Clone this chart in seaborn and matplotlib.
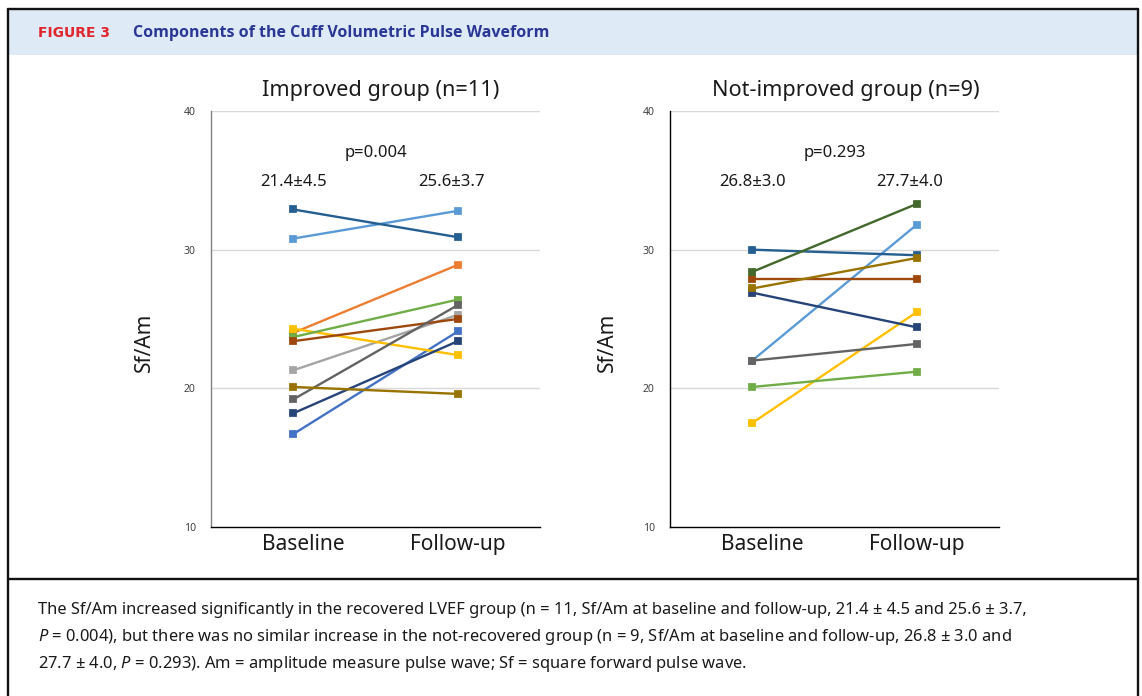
import pandas as pd
import matplotlib
matplotlib.use("Agg")
import matplotlib.pyplot as plt
from matplotlib.patches import Rectangle
from matplotlib.lines import Line2D
from matplotlib.transforms import ScaledTranslation
import seaborn as sns

# Данные
timepoints = ["Baseline", "Follow-up"]

improved_ids = ["i1", "i2", "i3", "i4", "i5", "i6", "i7", "i8", "i9", "i10", "i11"]
improved_baseline = [16.7, 24.0, 21.3, 24.3, 30.8, 23.7, 18.2, 23.4, 19.2, 20.1, 32.9]
improved_followup = [24.1, 28.9, 25.3, 22.4, 32.8, 26.4, 23.4, 25.0, 26.0, 19.6, 30.9]
improved_colors = ["#4472C4", "#ED7D31", "#A5A5A5", "#FFC000", "#5B9BD5", "#70AD47",
                   "#264478", "#9E480E", "#636363", "#997300", "#255E91"]

notimp_ids = ["n1", "n2", "n3", "n4", "n5", "n6", "n7", "n8", "n9"]
notimp_baseline = [22.0, 17.5, 22.0, 20.1, 26.9, 27.9, 30.0, 27.2, 28.4]
notimp_followup = [31.8, 25.5, 23.2, 21.2, 24.4, 27.9, 29.6, 29.4, 33.3]
notimp_colors = ["#5B9BD5", "#FFC000", "#636363", "#70AD47", "#264478", "#9E480E",
                 "#255E91", "#997300", "#43682B"]

improved_means = ["21.4\u00b14.5", "25.6\u00b13.7"]
notimp_means = ["26.8\u00b13.0", "27.7\u00b14.0"]
improved_p = "p=0.004"
notimp_p = "p=0.293"

W, H = 1142, 696
CHART_FONT = ["Noto Sans", "DejaVu Sans"]
TXT = "#1a1a1a"


def to_long(ids, base, follow):
    rows = []
    for sid, b, f in zip(ids, base, follow):
        rows.append({"id": sid, "time": timepoints[0], "value": b})
        rows.append({"id": sid, "time": timepoints[1], "value": f})
    return pd.DataFrame(rows)


def px_rect(x0, y0, x1, y1):
    # пиксели (сверху вниз) -> доли фигуры
    return [x0 / W, 1 - y1 / H, (x1 - x0) / W, (y1 - y0) / H]


def draw_panel(fig, ax, df, ids, colors, title, means, pval, spine_color, title_x, ylab_x):
    palette = dict(zip(ids, colors))
    sns.pointplot(data=df, x="time", y="value", hue="id", hue_order=ids,
                  order=timepoints, palette=palette, markers="s", linestyles="-",
                  errorbar=None, dodge=False, legend=False, ax=ax,
                  markersize=5, linewidth=1.7)
    ax.set_xlim(-0.5, 1.5)
    ax.set_ylim(10, 40)
    ax.set_yticks([10, 20, 30, 40])
    for y in [20, 30, 40]:
        ax.axhline(y, color="#D9D9D9", lw=1.0, zorder=0)
    ax.tick_params(axis="y", length=0, pad=11, labelsize=7.5, labelcolor="#404040")
    ax.tick_params(axis="x", length=0, pad=5, labelsize=15, labelcolor=TXT)
    for lbl in ax.get_xticklabels() + ax.get_yticklabels():
        lbl.set_family(CHART_FONT)
    # подпись Baseline в оригинале сдвинута немного вправо
    base_lbl = ax.get_xticklabels()[0]
    base_lbl.set_transform(base_lbl.get_transform()
                           + ScaledTranslation(10 / 100, 0, fig.dpi_scale_trans))
    ax.set_xlabel("")
    ax.set_ylabel("Sf/Am", fontsize=15, family=CHART_FONT, color=TXT)
    ax.yaxis.set_label_coords(ylab_x, 0.443)
    ax.grid(False)
    for side in ["top", "right"]:
        ax.spines[side].set_visible(False)
    ax.spines["left"].set_color(spine_color)
    ax.spines["left"].set_linewidth(1.0)
    ax.spines["bottom"].set_color("#000000")
    ax.spines["bottom"].set_linewidth(1.0)

    ax.text(title_x, 1.05, title, transform=ax.transAxes, ha="center", va="center",
            fontsize=15.6, family=CHART_FONT, color=TXT)
    ax.text(0.5, 37.0, pval, ha="center", va="center", fontsize=12,
            family=CHART_FONT, color=TXT)
    ax.text(0, 34.9, means[0], ha="center", va="center", fontsize=12,
            family=CHART_FONT, color=TXT)
    ax.text(0.96, 34.9, means[1], ha="center", va="center", fontsize=12,
            family=CHART_FONT, color=TXT)


def main():
    sns.set_theme(style="white")
    plt.rcParams["font.family"] = CHART_FONT
    plt.rcParams["mathtext.fontset"] = "custom"
    plt.rcParams["mathtext.it"] = "Noto Sans:italic"
    plt.rcParams["mathtext.rm"] = "Noto Sans"

    fig = plt.figure(figsize=(W / 100, H / 100), dpi=100)
    fig.patch.set_facecolor("white")

    # шапка и рамка
    fig.patches.append(Rectangle((8 / W, 1 - 55 / H), (1138 - 8) / W, (55 - 9) / H,
                                 transform=fig.transFigure, facecolor="#DEEAF6",
                                 edgecolor="none", zorder=0))
    for (x0, y0, x1, y1) in [(8, 8.5, 1138, 8.5), (8, 579, 1138, 579)]:
        fig.lines.append(Line2D([x0 / W, x1 / W], [1 - y0 / H, 1 - y1 / H],
                                transform=fig.transFigure, color="#111111", lw=1.7))
    for x in [8, 1138]:
        fig.lines.append(Line2D([x / W, x / W], [1 - 8.5 / H, 0],
                                transform=fig.transFigure, color="#111111", lw=1.7))

    fig.text(38 / W, 1 - 33 / H, "FIGURE 3", ha="left",
             va="center", fontsize=10, fontweight="bold", color="#E1262D",
             family="DejaVu Sans")
    fig.text(133 / W, 1 - 33 / H, "Components of the Cuff Volumetric Pulse Waveform",
             ha="left", va="center", fontsize=11.5, fontweight="bold", color="#2A3795",
             family=["Open Sans", "DejaVu Sans"])

    ax1 = fig.add_axes(px_rect(211, 111, 540, 527))
    ax2 = fig.add_axes(px_rect(670, 111, 999, 527))

    draw_panel(fig, ax1, to_long(improved_ids, improved_baseline, improved_followup),
               improved_ids, improved_colors, "Improved group (n=11)",
               improved_means, improved_p, "#808080", 0.517, -0.170)
    draw_panel(fig, ax2, to_long(notimp_ids, notimp_baseline, notimp_followup),
               notimp_ids, notimp_colors, "Not-improved group (n=9)",
               notimp_means, notimp_p, "#000000", 0.535, -0.158)

    caption = [
        "The Sf/Am increased significantly in the recovered LVEF group (n = 11, Sf/Am at baseline and follow-up, 21.4 \u00b1 4.5 and 25.6 \u00b1 3.7,",
        "$P$ = 0.004), but there was no similar increase in the not-recovered group (n = 9, Sf/Am at baseline and follow-up, 26.8 \u00b1 3.0 and",
        "27.7 \u00b1 4.0, $P$ = 0.293). Am = amplitude measure pulse wave; Sf = square forward pulse wave.",
    ]
    for i, line in enumerate(caption):
        fig.text(38 / W, 1 - (610 + i * 27) / H, line, ha="left", va="center",
                 fontsize=11.9, color=TXT, family=CHART_FONT)

    fig.savefig("out.png", dpi=100)


if __name__ == "__main__":
    main()
